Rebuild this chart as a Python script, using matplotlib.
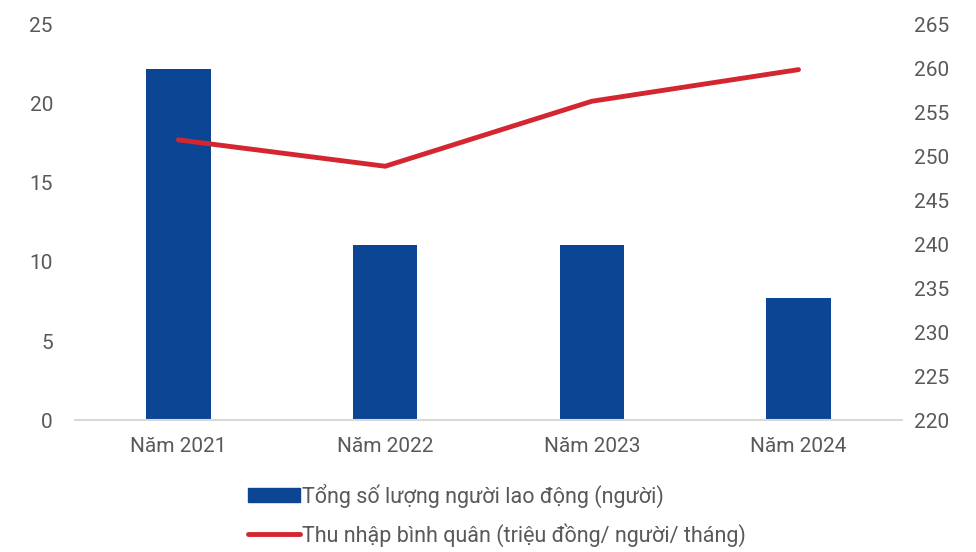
import matplotlib.pyplot as plt
from matplotlib.lines import Line2D
from matplotlib.patches import Patch

plt.rcParams['font.family'] = ['Roboto', 'DejaVu Sans']

years = ["Năm 2021", "Năm 2022", "Năm 2023", "Năm 2024"]
workers = [22.2, 11.1, 11.1, 7.7]
income = [251.9, 248.9, 256.3, 259.9]

bar_color = "#0B4594"
line_color = "#D42630"
text_color = "#595959"

fig = plt.figure(figsize=(9.76, 5.52), dpi=100)
ax = fig.add_axes([0.077, 0.239, 0.847, 0.716])
ax2 = ax.twinx()

x = range(len(years))
ax.bar(x, workers, width=0.31, color=bar_color, zorder=2)
ax2.plot(x, income, color=line_color, linewidth=3.5, solid_capstyle='round')

ax.set_xlim(-0.5, 3.5)
ax.set_ylim(0, 25)
ax.set_yticks([0, 5, 10, 15, 20, 25])
ax2.set_ylim(220, 265)
ax2.set_yticks(range(220, 266, 5))
ax.set_xticks(list(x))
ax.set_xticklabels(years)

for a in (ax, ax2):
    for s in a.spines.values():
        s.set_visible(False)
    a.tick_params(length=0, labelsize=15, labelcolor=text_color)
ax.spines['bottom'].set_visible(True)
ax.spines['bottom'].set_color("#D9D9D9")
ax.spines['bottom'].set_linewidth(1.5)
ax.tick_params(axis='y', pad=16)
ax2.tick_params(axis='y', pad=9)
ax.tick_params(axis='x', pad=12)

handles = [Patch(color=bar_color), Line2D([0], [0], color=line_color, linewidth=3.5, solid_capstyle='round')]
labels = ["Tổng số lượng người lao động (người)", "Thu nhập bình quân (triệu đồng/ người/ tháng)"]
fig.legend(handles, labels, loc='upper left', bbox_to_anchor=(0.254, 0.124), frameon=False,
           fontsize=15.5, labelcolor=text_color, handlelength=2.4, handleheight=0.6, handletextpad=0.1,
           labelspacing=0.72, borderaxespad=0, borderpad=0)

fig.savefig("out.png", dpi=100)
